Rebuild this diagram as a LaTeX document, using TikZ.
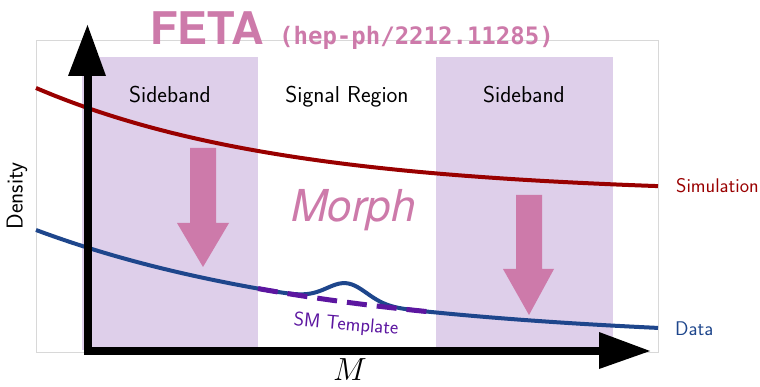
\RequirePackage{fix-cm}
\documentclass[tikz,border=0pt]{standalone}
\usepackage{fontspec}
\newfontfamily\heros{TeX Gyre Heros}
\newfontfamily\dmono{DejaVu Sans Mono}
\definecolor{simred}{RGB}{153,0,0}
\definecolor{datablue}{RGB}{30,70,140}
\definecolor{smpurple}{RGB}{92,22,160}
\definecolor{bandc}{RGB}{222,207,234}
\definecolor{pinkc}{RGB}{205,122,170}
\definecolor{framec}{RGB}{216,216,216}
\tikzset{
  lbl/.style={font=\sffamily\fontsize{23}{26}\selectfont, anchor=base},
  curvelbl/.style={font=\sffamily\fontsize{19.8}{22}\selectfont, anchor=base west, inner sep=0pt},
  band/.style={fill=bandc, draw=none},
  bigarrow/.style={fill=pinkc, draw=none},
  axisline/.style={line width=8pt, black},
}
\begin{document}
\begin{tikzpicture}[x=1pt,y=-1pt]
\useasboundingbox (0,0) rectangle (760,387);
% frame
\draw[framec, line width=0.8pt] (36,40) rectangle (658,352);
% bands
\fill[band] (82,57) rectangle (258,350);
\fill[band] (436,57) rectangle (613,350);
% curves
\draw[simred, line width=4pt] plot[domain=36:658, samples=120, smooth] (\x, {195-107*exp(-(\x-36)/250)});
\draw[datablue, line width=4pt] plot[domain=36:658, samples=200, smooth]
  (\x, {342-112*exp(-(\x-36)/300) - 19*exp(-min(30,((\x-347)/20)*((\x-347)/20)/2))});
\draw[smpurple, line width=5pt, dash pattern=on 20pt off 10pt] plot[domain=258:430, samples=60, smooth]
  (\x, {342-112*exp(-(\x-36)/300)});
% pink arrows
\fill[bigarrow] (190,148) -- (216,148) -- (216,223) -- (229,223) -- (203,267) -- (177,223) -- (190,223) -- cycle;
\fill[bigarrow] (516,195) -- (542,195) -- (542,269) -- (554,269) -- (529,315) -- (503,269) -- (516,269) -- cycle;
% axes
\coordinate (origin) at (87.5,351);
\coordinate (yend) at (87.5,76);
\coordinate (xend) at (600,351);
\draw[axisline] (yend) -- (origin) -- (xend);
\fill[black] (68,76) -- (106,76) -- (87.5,25) -- cycle;
\fill[black] (599,332) -- (599,369) -- (650,351) -- cycle;
% texts
\node[lbl] (sb1) at (170,103) {Sideband};
\node[lbl] (sr) at (347,103) {Signal Region};
\node[lbl] (sb2) at (524,103) {Sideband};
\node[font=\sffamily\fontsize{23}{26}\selectfont, rotate=90] (dens) at (17,196) {Density};
\node[curvelbl, text=simred] (sim) at (676,193) {Simulation};
\node[curvelbl, text=datablue] (dat) at (675,335) {Data};
\node[font=\sffamily\fontsize{19.8}{22}\selectfont, text=smpurple, rotate=-5] (smt) at (346,325) {SM Template};
\node[font=\heros\itshape\fontsize{44}{48}\selectfont, text=pinkc, anchor=base west, inner sep=0pt] (morph) at (291,222) {Morph};
\node[font=\heros\bfseries\fontsize{45}{50}\selectfont, text=pinkc, anchor=base west, inner sep=0pt] (feta) at (150,45) {FETA};
\node[font=\dmono\bfseries\fontsize{24}{26}\selectfont, text=pinkc, anchor=base west, inner sep=0pt] (ref) at (279,45) {(hep-ph/2212.11285)};
\node[font=\fontsize{32}{36}\selectfont, inner sep=0pt, anchor=base] (mlabel) at (350,380) {$M$};
\end{tikzpicture}
\end{document}
